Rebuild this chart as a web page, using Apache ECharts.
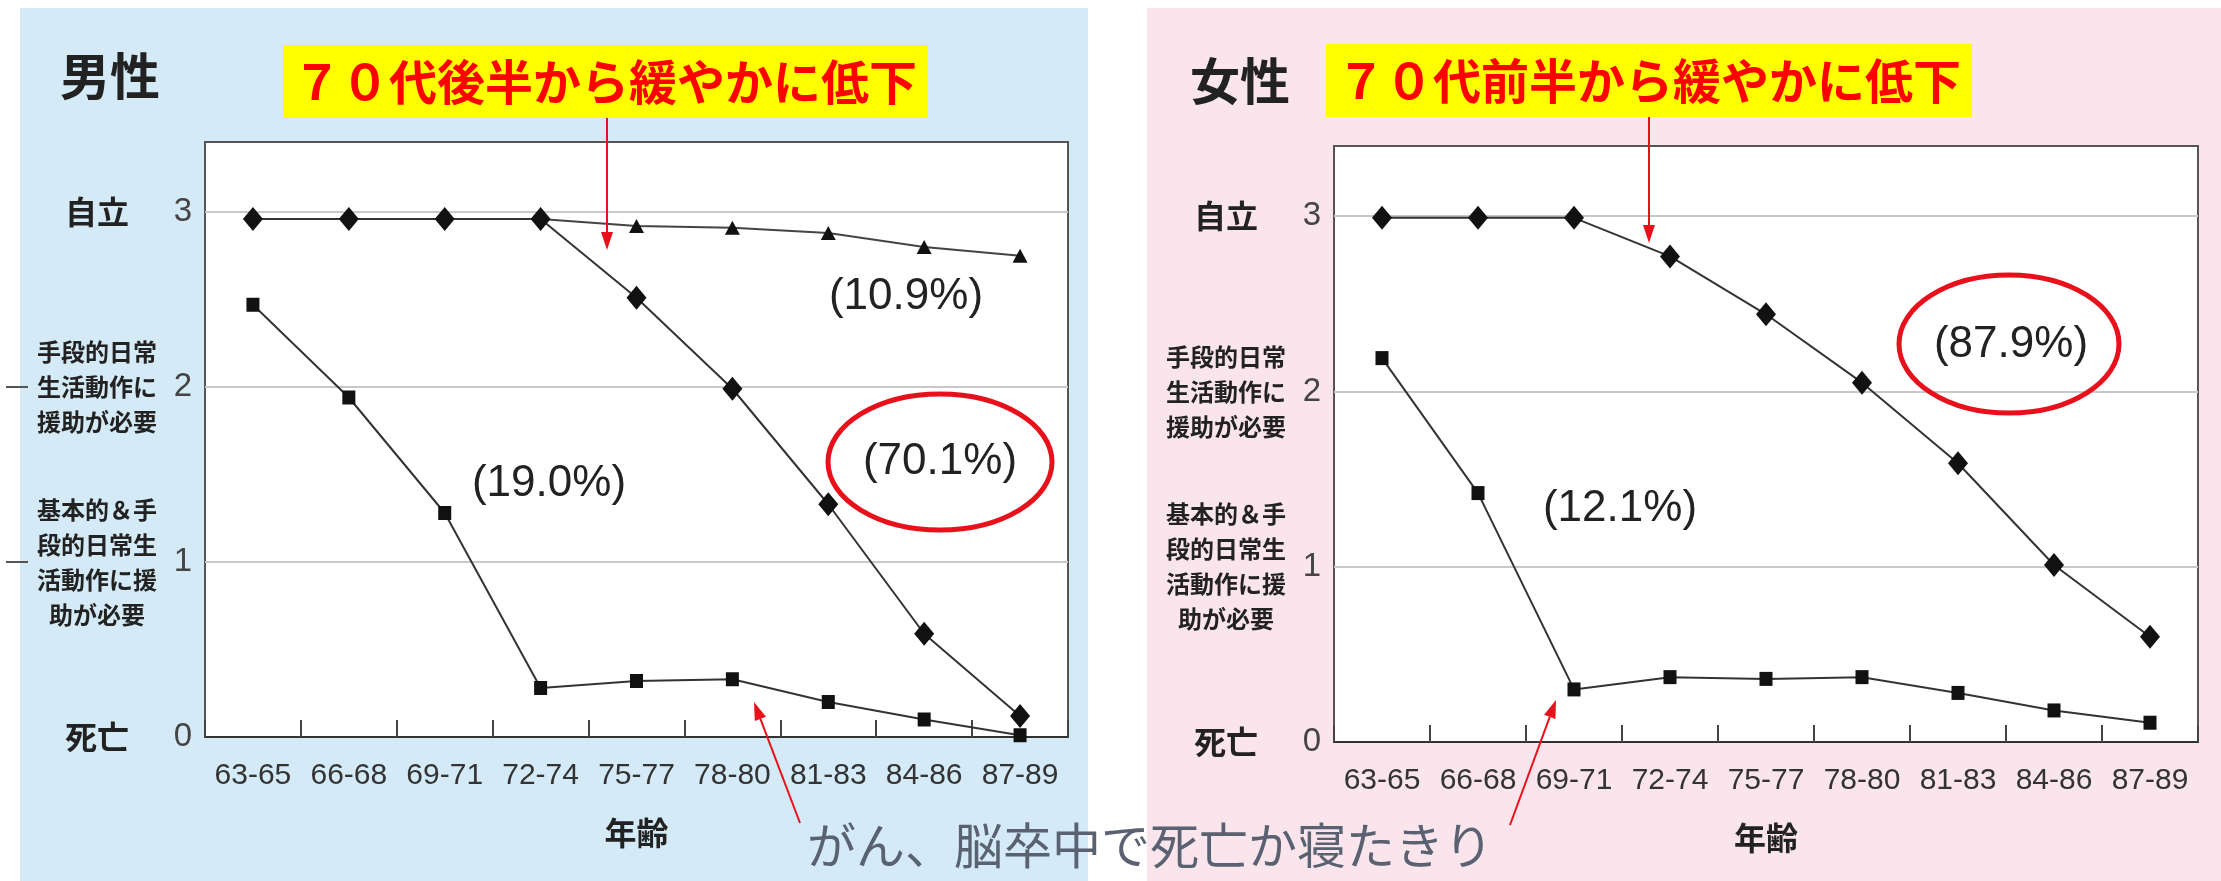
<!DOCTYPE html>
<html>
<head>
<meta charset="utf-8">
<script src="https://cdn.jsdelivr.net/npm/echarts/dist/echarts.min.js"></script>
<style>
html,body{margin:0;padding:0;background:#ffffff;}
#c{width:2221px;height:881px;}
</style>
</head>
<body>
<div id="c"></div>
<script>
// ---------- data ----------
const ageGroups = ['63-65','66-68','69-71','72-74','75-77','78-80','81-83','84-86','87-89'];
const yTickValues = [0, 1, 2, 3];
const levelNames = ['死亡', '基本的＆手\n段的日常生\n活動作に援\n助が必要', '手段的日常\n生活動作に\n援助が必要', '自立'];
const axisTitle = '年齢';

const maleTitle = '男性';
const femaleTitle = '女性';
const maleNote = '７０代後半から緩やかに低下';
const femaleNote = '７０代前半から緩やかに低下';
const caption = 'がん、脳卒中で死亡か寝たきり';

// male: independent -> rapid decline (70.1%)
const maleMain    = [2.96, 2.96, 2.96, 2.96, 2.51, 1.99, 1.33, 0.59, 0.12];
// male: stays independent (10.9%)
const maleHigh    = ['-', '-', '-', 2.96, 2.92, 2.91, 2.88, 2.80, 2.75];
// male: early decline (19.0%)
const maleEarly   = [2.47, 1.94, 1.28, 0.28, 0.32, 0.33, 0.20, 0.10, 0.01];
// female: gradual decline (87.9%)
const femaleMain  = [2.99, 2.99, 2.99, 2.77, 2.44, 2.05, 1.59, 1.01, 0.60];
// female: early decline (12.1%)
const femaleEarly = [2.19, 1.42, 0.30, 0.37, 0.36, 0.37, 0.28, 0.18, 0.11];

const malePct = ['(10.9%)', '(70.1%)', '(19.0%)'];
const femalePct = ['(87.9%)', '(12.1%)'];

// ---------- chart ----------
const NUM_FONT = "'Liberation Sans', Arial, Helvetica, sans-serif";
const JP_FONT = "'Noto Sans CJK JP', 'Noto Sans CJK SC', sans-serif";
const chart = echarts.init(document.getElementById('c'), null, {renderer: 'canvas', width: 2221, height: 881});

const grids = [
  {left: 205, top: 142, width: 863, height: 595},
  {left: 1334, top: 146, width: 864, height: 596}
];

function gridOpt(g) {
  return Object.assign({
    show: true, backgroundColor: '#ffffff', borderColor: '#555555', borderWidth: 2,
    containLabel: false, outerBoundsMode: 'none'
  }, g);
}

function xAxisFor(gi) {
  return {
    type: 'category', gridIndex: gi, data: ageGroups, boundaryGap: true,
    axisLine: {show: true, onZero: false, lineStyle: {color: '#333333', width: 2}},
    axisTick: {show: true, inside: true, length: 17, interval: 0, alignWithLabel: false, lineStyle: {color: '#444444', width: 2}},
    axisLabel: {show: true, interval: 0, margin: 24, fontSize: 30, color: '#333333', fontFamily: NUM_FONT},
    splitLine: {show: false},
    name: axisTitle, nameLocation: 'middle', nameGap: 80,
    nameTextStyle: {fontSize: 32, fontWeight: 'bold', color: '#222222', fontFamily: JP_FONT}
  };
}

function yValueAxis(gi) {
  return {
    type: 'value', gridIndex: gi, min: 0, max: 3.4, interval: 1, position: 'left',
    axisLine: {show: false}, axisTick: {show: false},
    splitLine: {show: true, showMinLine: false, showMaxLine: false, lineStyle: {color: '#c8c8c8', width: 2}},
    axisLabel: {
      show: true, margin: 13, fontSize: 33, color: '#444444', fontFamily: NUM_FONT,
      formatter: v => (yTickValues.indexOf(v) >= 0 ? String(v) : '')
    }
  };
}

function yNameAxis(gi) {
  return {
    type: 'value', gridIndex: gi, min: 0, max: 3.4, interval: 1, position: 'left', offset: 0,
    axisLine: {show: false}, axisTick: {show: false}, splitLine: {show: false},
    axisLabel: {
      show: true, margin: 108, align: 'center', fontSize: 24, lineHeight: 35,
      fontWeight: 'bold', color: '#222222', fontFamily: JP_FONT,
      formatter: v => {
        const i = yTickValues.indexOf(v);
        if (i < 0) return '';
        if (v === 0 || v === 3) return '{big|' + levelNames[i] + '}';
        return levelNames[i];
      },
      rich: {big: {fontSize: 32, fontWeight: 'bold', color: '#222222', fontFamily: JP_FONT, lineHeight: 36}}
    }
  };
}

function lineSeries(name, data, xi, yi, symbol, size, color, z) {
  return {
    type: 'line', name: name, data: data, xAxisIndex: xi, yAxisIndex: yi,
    symbol: symbol, symbolSize: size, showSymbol: true, connectNulls: false,
    lineStyle: {color: color, width: 2}, itemStyle: {color: '#111111'},
    animation: false, silent: true, z: z
  };
}

const maleHighData = maleHigh.map((v, i) => (i === 3 ? {value: v, symbol: 'none'} : v));

function arrow(x1, y1, x2, y2, color) {
  const dx = x2 - x1, dy = y2 - y1, len = Math.sqrt(dx * dx + dy * dy);
  const ux = dx / len, uy = dy / len, hl = 18, hw = 6;
  const bx = x2 - ux * hl, by = y2 - uy * hl;
  return [
    {type: 'line', z: 50, shape: {x1: x1, y1: y1, x2: bx, y2: by}, style: {stroke: color, lineWidth: 2}},
    {type: 'polygon', z: 50, shape: {points: [[x2, y2], [bx - uy * hw, by + ux * hw], [bx + uy * hw, by - ux * hw]]}, style: {fill: color}}
  ];
}

function txt(text, x, y, size, weight, color, family, extra) {
  return Object.assign({
    type: 'text', z: 40,
    style: {text: text, x: x, y: y, fontSize: size, fontWeight: weight, fill: color, fontFamily: family, align: 'center', verticalAlign: 'middle'}
  }, extra || {});
}

const RED = '#e8101a';
const option = {
  backgroundColor: '#ffffff',
  animation: false,
  grid: [gridOpt(grids[0]), gridOpt(grids[1])],
  xAxis: [xAxisFor(0), xAxisFor(1)],
  yAxis: [yValueAxis(0), yNameAxis(0), yValueAxis(1), yNameAxis(1)],
  series: [
    lineSeries('male-high', maleHighData, 0, 0, 'triangle', [15, 14], '#444444', 3),
    lineSeries('male-main', maleMain, 0, 0, 'diamond', [20, 24], '#333333', 4),
    lineSeries('male-early', maleEarly, 0, 0, 'rect', [13, 14], '#333333', 3),
    lineSeries('female-main', femaleMain, 1, 2, 'diamond', [20, 24], '#333333', 4),
    lineSeries('female-early', femaleEarly, 1, 2, 'rect', [13, 14], '#333333', 3)
  ],
  graphic: {
    elements: [
      {type: 'rect', z: -10, shape: {x: 20, y: 8, width: 1068, height: 873}, style: {fill: '#d4ebf7'}},
      {type: 'rect', z: -10, shape: {x: 1147, y: 8, width: 1074, height: 873}, style: {fill: '#fbe5ed'}},
      // titles
      txt(maleTitle, 110, 76, 50, 'bold', '#222222', JP_FONT),
      txt(femaleTitle, 1240, 81, 50, 'bold', '#222222', JP_FONT),
      // yellow notes
      {type: 'rect', z: 30, shape: {x: 283, y: 45, width: 645, height: 73}, style: {fill: '#ffff00'}},
      {type: 'rect', z: 30, shape: {x: 1326, y: 44, width: 646, height: 73}, style: {fill: '#ffff00'}},
      txt(maleNote, 605, 82, 48, 'bold', '#ff0000', JP_FONT),
      txt(femaleNote, 1649, 81, 48, 'bold', '#ff0000', JP_FONT),
      // arrows
      ...arrow(607, 118, 607, 250, RED),
      ...arrow(1649, 117, 1649, 243, RED),
      ...arrow(800, 823, 754, 702, RED),
      ...arrow(1510, 825, 1556, 700, RED),
      // percentages
      txt(malePct[0], 906, 297, 44, 'normal', '#222222', NUM_FONT),
      txt(malePct[1], 940, 462, 44, 'normal', '#222222', NUM_FONT),
      txt(malePct[2], 549, 484, 44, 'normal', '#222222', NUM_FONT),
      txt(femalePct[0], 2011, 345, 44, 'normal', '#222222', NUM_FONT),
      txt(femalePct[1], 1620, 509, 44, 'normal', '#222222', NUM_FONT),
      // ellipses
      {type: 'ellipse', z: 45, shape: {cx: 940, cy: 462, rx: 112, ry: 68}, style: {fill: 'none', stroke: RED, lineWidth: 5}},
      {type: 'ellipse', z: 45, shape: {cx: 2009, cy: 344, rx: 110, ry: 69}, style: {fill: 'none', stroke: RED, lineWidth: 5}},
      // caption
      txt(caption, 1150, 845, 49, 'normal', '#5a6272', JP_FONT)
    ]
  }
};
chart.setOption(option);

// small marks at the far left edge, aligned to levels 1 and 2 of the male chart
const y1 = chart.convertToPixel({yAxisIndex: 0}, 1);
const y2 = chart.convertToPixel({yAxisIndex: 0}, 2);
const extra = option.graphic.elements.concat([
  {type: 'line', z: 20, shape: {x1: 6, y1: y2, x2: 28, y2: y2}, style: {stroke: '#555555', lineWidth: 2}},
  {type: 'line', z: 20, shape: {x1: 6, y1: y1, x2: 28, y2: y1}, style: {stroke: '#555555', lineWidth: 2}}
]);
chart.setOption({graphic: {elements: extra}}, {replaceMerge: ['graphic']});
</script>
</body>
</html>
